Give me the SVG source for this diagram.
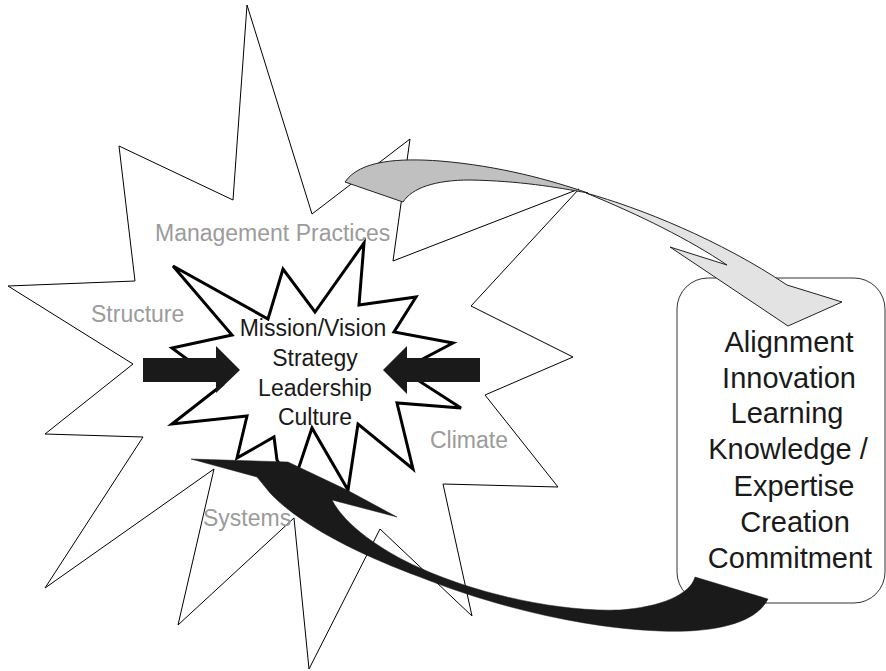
<svg xmlns="http://www.w3.org/2000/svg" width="886" height="671" viewBox="0 0 886 671">
  <style>
    .outer { fill: #ffffff; stroke: #000000; stroke-width: 1; stroke-linejoin: miter; }
    .core { fill: #ffffff; stroke: #000000; stroke-width: 3; stroke-linejoin: miter; }
    .factor { font-family: "Liberation Sans", Arial, sans-serif; font-size: 23px; fill: #9b9b9b; }
    .coreText { font-family: "Liberation Sans", Arial, sans-serif; font-size: 23px; fill: #1a1a1a; text-anchor: middle; }
    .outcome { font-family: "Liberation Sans", Arial, sans-serif; font-size: 29px; fill: #1a1a1a; text-anchor: middle; }
    .box { fill: #ffffff; stroke: #333333; stroke-width: 1; }
    .push { fill: #1a1a1a; stroke: none; }
    .ribbonDark { fill: #c0c0c0; stroke: #222222; stroke-width: 1; stroke-linejoin: round; }
    .ribbonLight { fill: #e3e3e3; stroke: #222222; stroke-width: 1; stroke-linejoin: miter; }
    .feedback { fill: #1a1a1a; stroke: #1a1a1a; stroke-width: 0.5; }
  </style>

  <!-- outer burst: organisational context -->
  <g id="context">
    <polygon class="outer" points="247,5 312,214 410,139 393,261 579,189 471,306 573,357 485,395 558,487 443,484 472,616 380,529 309,669 294,518 178,625 214,469 45,588 143,437 45,434 133,364 8,286 135,281 119,146 233,200"/>
    <text class="factor" x="155" y="241">Management Practices</text>
    <text class="factor" x="91" y="322">Structure</text>
    <text class="factor" x="430" y="448">Climate</text>
    <text class="factor" x="203" y="526">Systems</text>
  </g>

  <!-- inner burst: strategic core -->
  <g id="core">
    <polygon class="core" points="173,266 268,319 283,269 315,312 364,243 359,305 416,297 394,332 453,343 402,370 461,408 397,403 413,469 358,424 348,490 312,428 299,467 288,478 277,460 274,437 237,458 247,416 172,424 222,385 172,348 232,335"/>
    <text class="coreText" x="313" y="336">Mission/Vision</text>
    <text class="coreText" x="315" y="366">Strategy</text>
    <text class="coreText" x="315" y="396">Leadership</text>
    <text class="coreText" x="315" y="425">Culture</text>
  </g>

  <!-- outcomes box -->
  <g id="outcomes">
    <rect class="box" x="677" y="278" width="208" height="325" rx="31" ry="31"/>
    <text class="outcome" x="789" y="352">Alignment</text>
    <text class="outcome" x="789" y="388">Innovation</text>
    <text class="outcome" x="787" y="423">Learning</text>
    <text class="outcome" x="788" y="459">Knowledge /</text>
    <text class="outcome" x="794" y="496">Expertise</text>
    <text class="outcome" x="795" y="532">Creation</text>
    <text class="outcome" x="790" y="568">Commitment</text>
  </g>

  <!-- connectors -->
  <g id="connectors">
    <!-- block arrows pressing on the core -->
    <polygon class="push" points="143,358 216,358 216,346 240,370 216,393 216,382 143,382"/>
    <polygon class="push" points="480,358 407,358 407,346 383,370 407,394 407,382 480,382"/>

    <!-- twisted ribbon from context to outcomes -->
    <path class="ribbonDark" d="M345,182 C360,160 400,158 440,161 C500,166 550,180 588,193 C555,187 520,181 470,180 C435,180 412,188 403,202 Z"/>
    <path class="ribbonLight" d="M586,193 C640,208 720,240 787,285 L842,302 L788,326 L670,247 L727,265 C690,240 640,215 586,193 Z"/>

    <!-- feedback ribbon from outcomes back to the core -->
    <path class="feedback" d="M191,459 L288,462 L347,490 L397,517 L332,500 C345,525 380,550 420,568 C480,595 560,612 620,610 C660,607 690,595 695,577 L768,599 C755,625 710,633 660,631 C580,628 490,605 420,577 C360,555 300,525 270,493 L257,477 Z"/>
  </g>
</svg>
